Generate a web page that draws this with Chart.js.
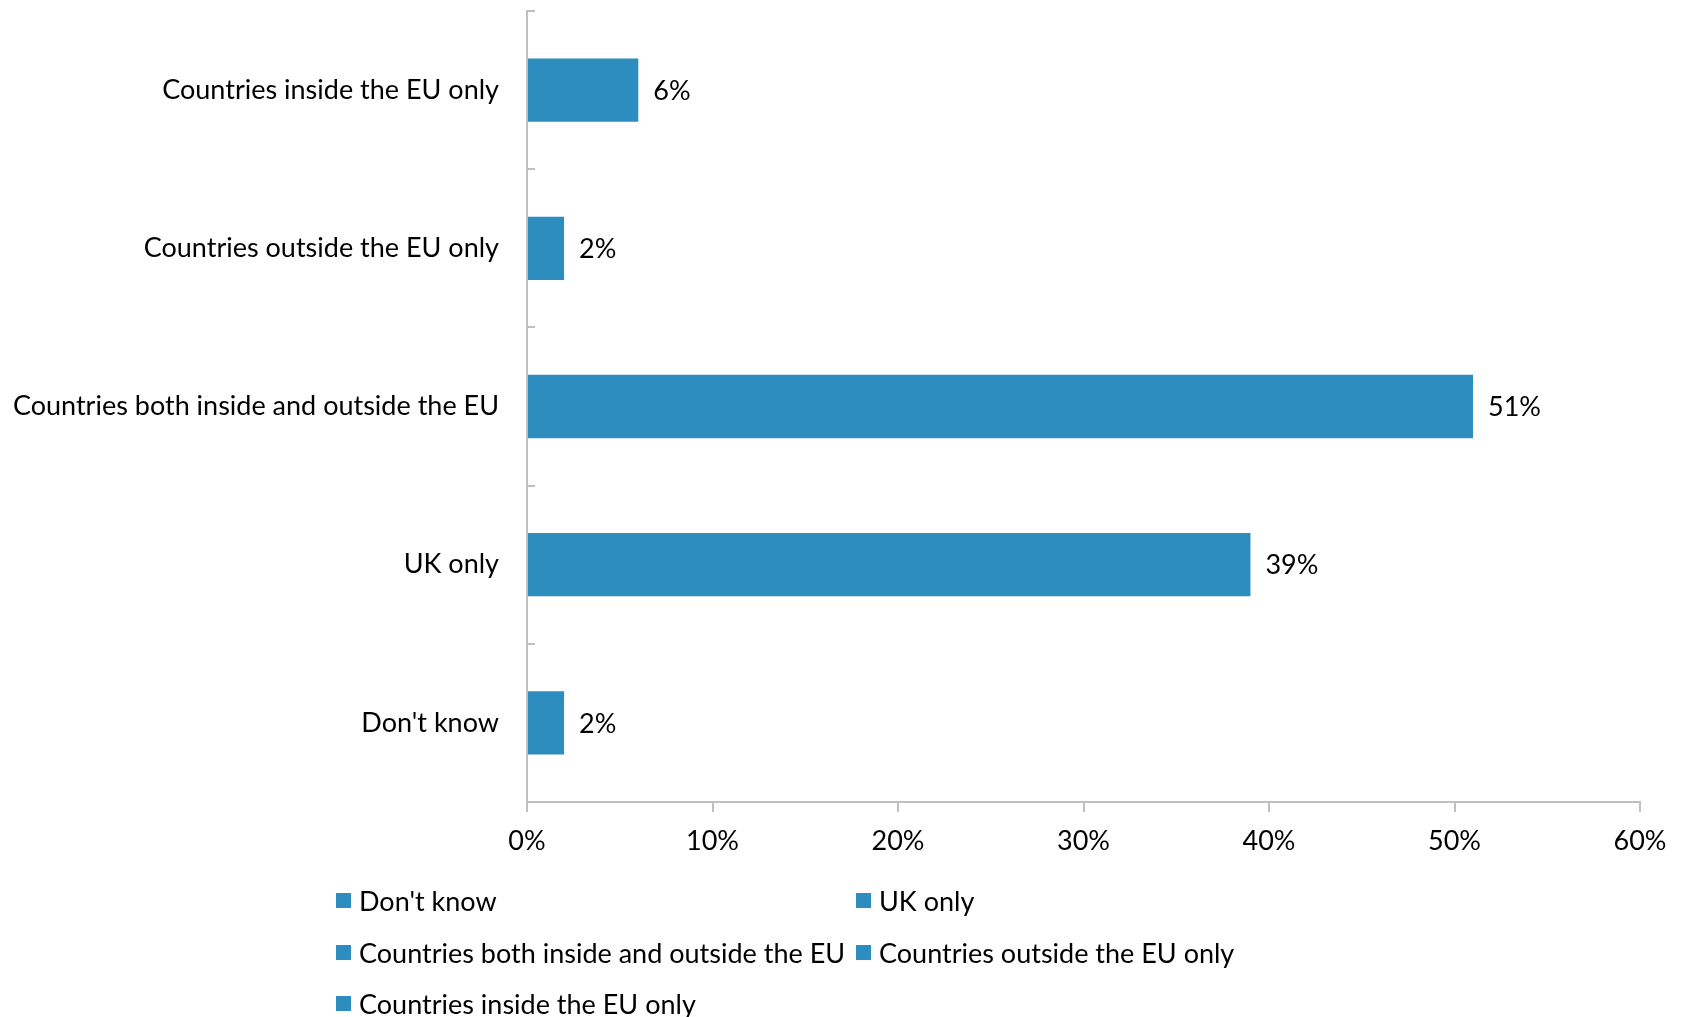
<!DOCTYPE html>
<html>
<head>
<meta charset="utf-8">
<script src="https://cdn.jsdelivr.net/npm/chart.js@4.4.0/dist/chart.umd.min.js"></script>
<style>
  html, body { margin: 0; padding: 0; background: #fff; }
  #wrap { position: relative; width: 1684px; height: 1017px; }
  #legend { position: absolute; left: 0; top: 0; }
  .item { position: absolute; height: 34px; display: flex; align-items: center;
          font-family: Lato, "Open Sans", sans-serif; font-size: 27px; color: #000; white-space: nowrap; }
  .sw { width: 15px; height: 15px; margin-right: 8px; }
</style>
</head>
<body>
<div id="wrap">
  <canvas id="c" width="1684" height="1017"></canvas>
  <div id="legend"></div>
</div>
<script>
// Answer categories, top to bottom
const categories = [
  'Countries inside the EU only',
  'Countries outside the EU only',
  'Countries both inside and outside the EU',
  'UK only',
  "Don't know"
];
// Share of respondents (%)
const values = [6, 2, 51, 39, 2];
// Horizontal axis ticks (%)
const xTicks = [0, 10, 20, 30, 40, 50, 60];
// Legend lists the categories bottom to top
const legendOrder = categories.slice().reverse();

const BAR = '#2c8dbe';
const AXIS = '#bfbfbf';
const FONT = { family: 'Lato, "Open Sans", sans-serif', size: 27 };

// Value labels placed just past the end of each bar
const valueLabels = {
  id: 'valueLabels',
  afterDatasetsDraw(chart) {
    const ctx = chart.ctx;
    const meta = chart.getDatasetMeta(0);
    ctx.save();
    ctx.font = `${FONT.size}px ${FONT.family}`;
    ctx.fillStyle = '#000';
    ctx.textAlign = 'left';
    ctx.textBaseline = 'middle';
    meta.data.forEach((bar, i) => {
      ctx.fillText(values[i] + '%', bar.x + 15, bar.y + 1);
    });
    ctx.restore();
  }
};

// Short tick marks on the category axis, at band boundaries, pointing into the plot
const categoryTicks = {
  id: 'categoryTicks',
  afterDraw(chart) {
    const ys = chart.scales.y;
    const x0 = chart.scales.x.left;
    const ctx = chart.ctx;
    ctx.save();
    ctx.strokeStyle = AXIS;
    ctx.lineWidth = 2;
    for (let i = 0; i <= categories.length; i++) {
      const py = Math.round(ys.getPixelForValue(i - 0.5));
      ctx.beginPath();
      ctx.moveTo(x0, py);
      ctx.lineTo(x0 + 8, py);
      ctx.stroke();
    }
    ctx.restore();
  }
};

new Chart(document.getElementById('c'), {
  type: 'bar',
  data: {
    labels: categories,
    datasets: [{
      data: values,
      backgroundColor: BAR,
      borderWidth: 0,
      categoryPercentage: 1,
      barPercentage: 0.4
    }]
  },
  options: {
    indexAxis: 'y',
    responsive: false,
    animation: false,
    layout: { padding: { top: 11, right: 44, bottom: 155, left: 0 } },
    plugins: { legend: { display: false }, tooltip: { enabled: false } },
    scales: {
      x: {
        type: 'linear',
        min: xTicks[0],
        max: xTicks[xTicks.length - 1],
        afterBuildTicks(scale) { scale.ticks = xTicks.map(v => ({ value: v })); },
        afterFit(scale) {
          scale.height = 60;
          scale.paddingLeft = 0;
          scale.paddingRight = 0;
        },
        ticks: { font: FONT, color: '#000', padding: 13, maxRotation: 0,
                 callback: v => v + '%' },
        grid: { drawOnChartArea: false, drawTicks: true, tickLength: 10,
                color: AXIS, lineWidth: 2 },
        border: { display: true, color: AXIS, width: 2 }
      },
      y: {
        type: 'category',
        afterFit(scale) {
          scale.width = 527;
          scale.paddingTop = 0;
          scale.paddingBottom = 0;
        },
        ticks: { font: FONT, color: '#000', padding: 28 },
        grid: { display: false, drawTicks: false },
        border: { display: true, color: AXIS, width: 2 }
      }
    }
  },
  plugins: [valueLabels, categoryTicks]
});

// Two-column legend under the plot
const legend = document.getElementById('legend');
const colX = [336, 856];
const rowY = [900, 952, 1003];
legendOrder.forEach((name, i) => {
  const item = document.createElement('div');
  item.className = 'item';
  item.style.left = colX[i % 2] + 'px';
  item.style.top = (rowY[Math.floor(i / 2)] - 17) + 'px';
  const sw = document.createElement('span');
  sw.className = 'sw';
  sw.style.background = BAR;
  const txt = document.createElement('span');
  txt.textContent = name;
  item.appendChild(sw);
  item.appendChild(txt);
  legend.appendChild(item);
});
</script>
</body>
</html>
